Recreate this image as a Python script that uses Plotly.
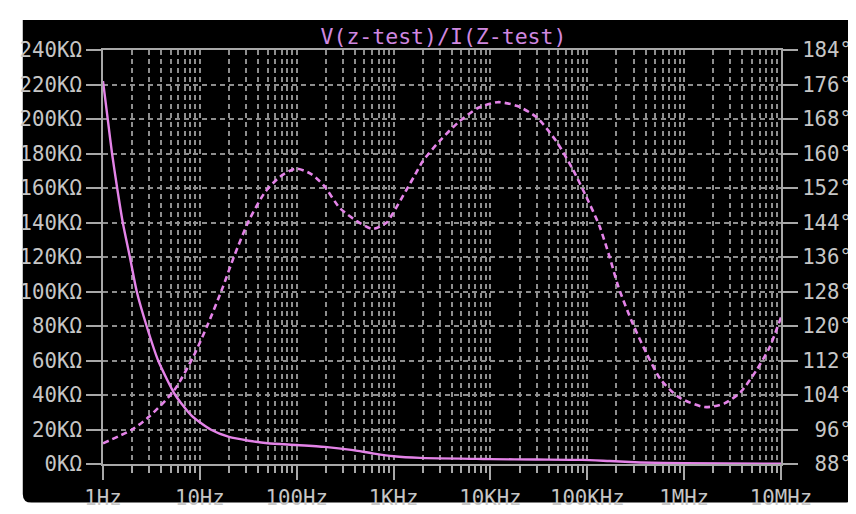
import plotly.graph_objects as go

# ---- data ----
mag_freq = [1, 1.13, 1.24, 1.40, 1.60, 1.91, 2.23, 2.82, 3.71, 5.57, 8.2, 12.9, 20, 32, 50,
            100, 195, 365, 630, 1000, 1870, 7200, 10000, 30000, 89000, 170000, 350000,
            1020000, 10000000]
mag_ohm = [222000, 198000, 180000, 160000, 140000, 119000, 100000, 80000, 60000, 40000,
           28000, 20000, 15700, 13500, 12000, 11000, 9900, 8200, 6000, 4500, 3550, 3000,
           2800, 2600, 2400, 1700, 900, 400, 200]

ph_freq = [1, 2, 3, 5.4, 8.6, 12.1, 17.2, 22.6, 32, 47, 67, 98, 140, 190, 280, 413, 609,
           850, 970, 1360, 1660, 2000, 2960, 4700, 7500, 11900, 19000, 30000, 48000, 71000,
           97000, 133000, 170000, 210000, 294000, 404000, 573000, 877000, 1630000,
           2580000, 3800000, 5600000, 7600000, 10000000]
ph_deg = [92.8, 96.0, 99.0, 105.0, 113.0, 120.4, 128.9, 136.2, 144.4, 151.0, 154.6, 156.5,
          155.3, 152.6, 147.3, 144.4, 142.5, 144.0, 145.9, 151.6, 155.0, 158.2, 162.8,
          167.3, 170.6, 171.9, 171.0, 168.4, 162.8, 156.3, 150.1, 143.3, 136.0, 129.0,
          120.6, 113.9, 107.6, 103.5, 101.2, 102.0, 104.6, 109.8, 115.0, 122.0]

x_tickvals = [1, 10, 100, 1e3, 1e4, 1e5, 1e6, 1e7]
x_ticktext = ["1Hz", "10Hz", "100Hz", "1KHz", "10KHz", "100KHz", "1MHz", "10MHz"]
x_minor = [d * m for d in x_tickvals[:-1] for m in range(2, 10)]

y_tickvals = list(range(0, 240001, 20000))
y_ticktext = [f"{v // 1000}KΩ" for v in y_tickvals]

y2_tickvals = list(range(88, 185, 8))
y2_ticktext = [("\u00a0" if v < 100 else "") + f"{v}°" for v in y2_tickvals]

TITLE = "V(z-test)/I(Z-test)"

# ---- styling ----
FONT = "DejaVu Sans Mono"
LINE_COL = "#e483e8"
TITLE_COL = "#d088e0"
TXT_COL = "#c6c6c6"
AX_COL = "#a8a8a8"
GRID_COL = "#8e8e8e"
GRID_DASH = "5px,4px"
TICK_SIZE = 20.7

fig = go.Figure()
fig.add_trace(go.Scatter(x=mag_freq, y=mag_ohm, mode="lines", yaxis="y",
                         line=dict(color=LINE_COL, width=2.4, shape="spline", smoothing=0.6),
                         showlegend=False, hoverinfo="skip"))
fig.add_trace(go.Scatter(x=ph_freq, y=ph_deg, mode="lines", yaxis="y2",
                         line=dict(color=LINE_COL, width=2.6, dash="6px,4px", shape="spline",
                                   smoothing=0.7),
                         showlegend=False, hoverinfo="skip"))

L, R, T, B = 89, 74, 42, 43
W, H = 856, 514
pw, ph = W - L - R, H - T - B

def px(x):
    return (x - L) / pw

def py(y):
    return (H - B - y) / ph

# black rounded panel (bottom corners rounded)
x0, x1, y0, y1 = px(7), px(856), py(511), py(11)
rx, ry = 9 / pw, 9 / ph
path = (f"M {x0},{y1} L {x1},{y1} L {x1},{y0 + ry} Q {x1},{y0} {x1 - rx},{y0} "
        f"L {x0 + rx},{y0} Q {x0},{y0} {x0},{y0 + ry} Z")

tickfont = dict(family=FONT, size=TICK_SIZE, color=TXT_COL)

fig.update_layout(
    width=W, height=H,
    margin=dict(l=L, r=R, t=T, b=B, pad=0),
    paper_bgcolor="white", plot_bgcolor="black",
    font=dict(family=FONT, size=TICK_SIZE, color=TXT_COL),
    title=dict(text=TITLE, x=(L + pw / 2) / W, xanchor="center", y=1 - 28 / H,
               yanchor="middle", yref="container",
               font=dict(family=FONT, size=21.5, color=TITLE_COL)),
    shapes=[dict(type="path", path=path, xref="paper", yref="paper",
                 fillcolor="black", line=dict(width=0), layer="below")],
    xaxis=dict(type="log", range=[0, 7], tickmode="array", tickvals=x_tickvals,
               ticktext=x_ticktext, ticks="outside", ticklen=14, tickwidth=2,
               tickcolor=AX_COL, showline=True, linecolor=AX_COL, linewidth=2,
               mirror=True, showgrid=True, gridcolor=GRID_COL, griddash=GRID_DASH,
               gridwidth=1.5, zeroline=False, tickfont=tickfont,
               minor=dict(tickmode="array", tickvals=x_minor, ticks="outside",
                          ticklen=7, tickwidth=2, tickcolor=AX_COL, showgrid=True,
                          gridcolor=GRID_COL, griddash=GRID_DASH, gridwidth=1.5)),
    yaxis=dict(range=[0, 240000], tickmode="array", tickvals=y_tickvals,
               ticktext=y_ticktext, ticks="outside", ticklen=15, tickwidth=2,
               tickcolor=AX_COL, showline=True, linecolor=AX_COL, linewidth=2,
               showgrid=True, gridcolor=GRID_COL, griddash=GRID_DASH, gridwidth=1.5,
               zeroline=False, tickfont=tickfont),
    yaxis2=dict(range=[88, 184], overlaying="y", side="right", tickmode="array",
                tickvals=y2_tickvals, ticktext=y2_ticktext, ticks="outside", ticklen=15,
                tickwidth=2, tickcolor=AX_COL, showline=True, linecolor=AX_COL,
                linewidth=2, showgrid=False, zeroline=False, tickfont=tickfont),
)

fig.write_html("out.html")
